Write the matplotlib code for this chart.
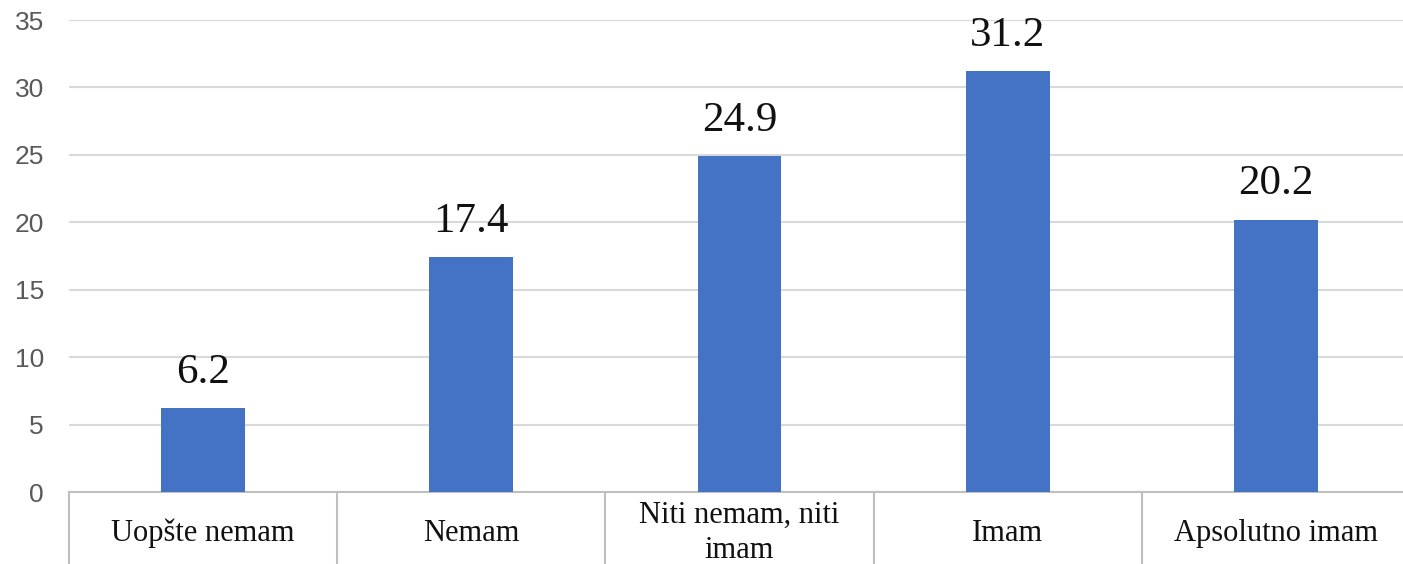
import matplotlib
matplotlib.use("Agg")
import matplotlib.pyplot as plt

categories = ["Uopšte nemam", "Nemam", "Niti nemam, niti\nimam", "Imam", "Apsolutno imam"]
values = [6.2, 17.4, 24.9, 31.2, 20.2]
yticks = [0, 5, 10, 15, 20, 25, 30, 35]

BAR = "#4472C4"
GRID = "#D9D9D9"
EDGE = "#BFBFBF"

fig = plt.figure(figsize=(14.03, 5.64), dpi=100)
ax = fig.add_axes([69 / 1403, 72 / 564, 1341 / 1403, 472 / 564])

x = list(range(len(categories)))
bars = ax.bar(x, values, width=0.313, color=BAR, zorder=3)
ax.bar_label(bars, labels=[f"{v:.1f}" for v in values], padding=12,
             fontsize=31, family="Liberation Serif", color="#111111")

ax.set_xlim(-0.5, len(categories) - 0.5)
ax.set_ylim(0, 35)
ax.set_yticks(yticks)
ax.yaxis.grid(True, color=GRID, linewidth=1.5, zorder=0)
ax.tick_params(axis="y", length=0, pad=18, labelsize=19, labelcolor="#595959")
for lab in ax.get_yticklabels():
    lab.set_family("Liberation Sans")
ax.set_xticks([])
for s in ["top", "right", "left"]:
    ax.spines[s].set_visible(False)
ax.spines["bottom"].set_color(EDGE)
ax.spines["bottom"].set_linewidth(1.5)

# category cells below the axis (Excel table style)
trans = ax.get_xaxis_transform()
for b in [i - 0.5 for i in range(len(categories) + 1)]:
    ax.plot([b, b], [0, -0.2], transform=trans, color=EDGE, lw=1.5, clip_on=False)
for xi, name in zip(x, categories):
    ax.text(xi, -0.087, name, transform=trans, ha="center", va="center",
            fontsize=22, family="Liberation Serif", color="#111111", linespacing=1.25)

fig.savefig("out.png", dpi=100)
